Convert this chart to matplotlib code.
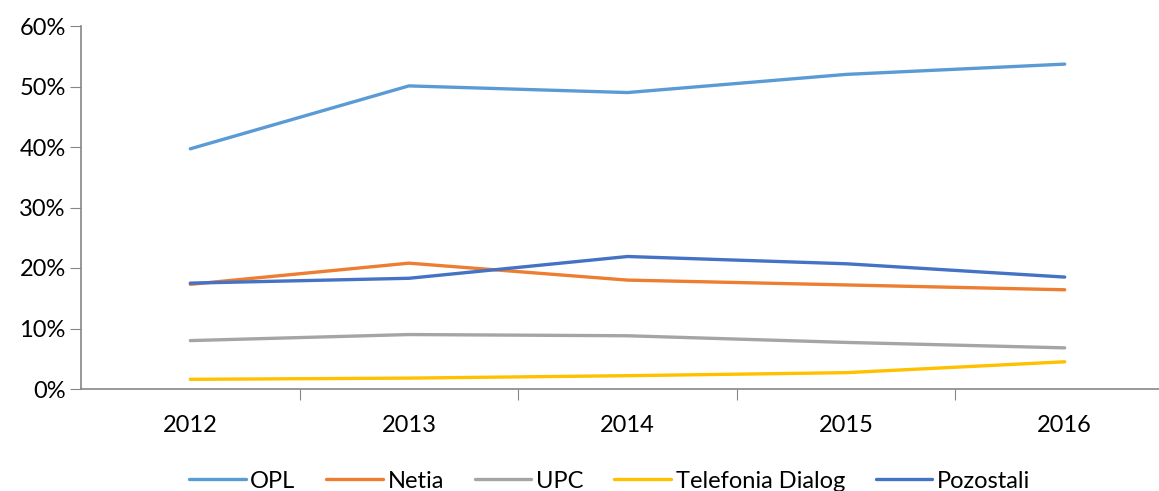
import matplotlib.pyplot as plt
from matplotlib.ticker import FuncFormatter, FixedLocator

years = ['2012', '2013', '2014', '2015', '2016']
opl = [39.7, 50.1, 49.0, 52.0, 53.7]
netia = [17.3, 20.8, 18.0, 17.2, 16.4]
upc = [8.0, 9.0, 8.8, 7.7, 6.8]
dialog = [1.6, 1.8, 2.2, 2.7, 4.5]
pozostali = [17.5, 18.3, 21.9, 20.7, 18.5]

series = [
    ('OPL', opl, '#5B9BD5'),
    ('Netia', netia, '#ED7D31'),
    ('UPC', upc, '#A5A5A5'),
    ('Telefonia Dialog', dialog, '#FFC000'),
    ('Pozostali', pozostali, '#4472C4'),
]

plt.rcParams['font.family'] = ['Lato', 'DejaVu Sans']

fig = plt.figure(figsize=(11.59, 4.91), dpi=100)
ax = fig.add_axes([81 / 1159, 102 / 491, 1093 / 1159, 363 / 491])

x = range(len(years))
for name, vals, col in series:
    ax.plot(x, vals, color=col, lw=2.4, label=name, solid_capstyle='round')

ax.set_xlim(-0.5, 4.5)
ax.set_ylim(0, 60)
ax.set_yticks(range(0, 61, 10))
ax.yaxis.set_major_formatter(FuncFormatter(lambda v, p: f'{int(v)}%'))

# category labels centred, tick marks on boundaries
ax.xaxis.set_major_locator(FixedLocator([0.5, 1.5, 2.5, 3.5, 4.5]))
ax.xaxis.set_major_formatter(FuncFormatter(lambda v, p: ''))
ax.xaxis.set_minor_locator(FixedLocator(list(x)))
ax.set_xticklabels(years, minor=True)
ax.tick_params(axis='x', which='minor', length=0, pad=19, labelsize=17)
ax.tick_params(axis='x', which='major', length=8, color='#868686')
ax.tick_params(axis='y', length=8, color='#868686', labelsize=17, pad=3)

for s in ['top', 'right']:
    ax.spines[s].set_visible(False)
for s in ['left', 'bottom']:
    ax.spines[s].set_color('#868686')
    ax.spines[s].set_linewidth(1.2)

fig.legend(loc='center', bbox_to_anchor=(0.526, 0.02), ncol=5, frameon=False,
           fontsize=17, handlelength=2.4, columnspacing=1.3, handletextpad=0.2)

fig.savefig('out.png', dpi=100)
